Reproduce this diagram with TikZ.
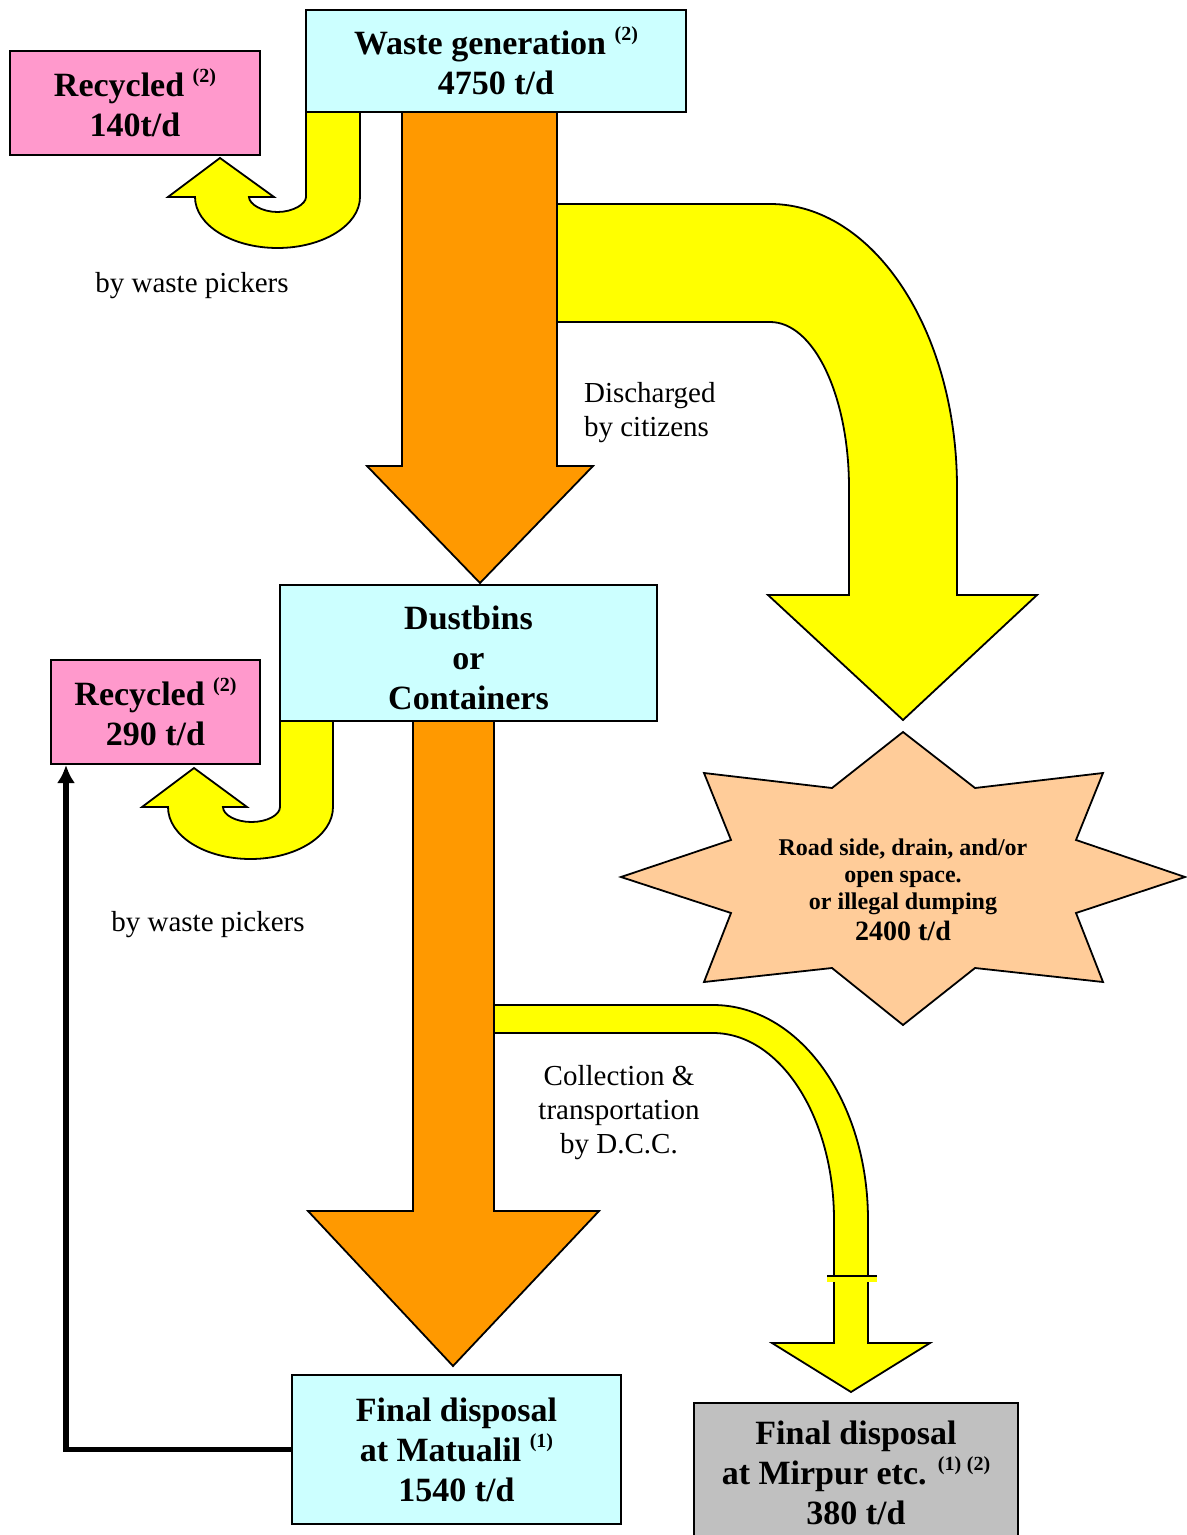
\documentclass[tikz,border=0pt]{standalone}
\usepackage{fontspec}
\setmainfont{Liberation Serif}
\usepackage{tikz}
\usetikzlibrary{arrows.meta}

\definecolor{boxcyan}{HTML}{CCFFFF}
\definecolor{boxpink}{HTML}{FF99CC}
\definecolor{boxgray}{HTML}{C0C0C0}
\definecolor{flowor}{HTML}{FF9900}
\definecolor{flowyel}{HTML}{FFFF00}
\definecolor{dumppeach}{HTML}{FFCC99}

\newcommand{\refmark}[1]{\raisebox{7pt}{\fontsize{10}{10}\selectfont(#1)}}

\begin{document}
\begin{tikzpicture}[x=0.5pt,y=-0.5pt,
  box/.style={draw,line width=1pt,inner sep=0pt,align=center,font=\fontsize{17}{20}\selectfont\bfseries},
  flow/.style={draw,line width=0.9pt,line join=miter},
  lbl/.style={align=center,font=\fontsize{14.5}{17}\selectfont}]
\useasboundingbox (0,0) rectangle (1187,1535);

% big yellow arrow to the dumping star
\path[flow,fill=flowyel] (557,204) -- (770,204) .. controls (873,204) and (957,330) .. (957,488)
  -- (957,595) -- (1037,595) -- (903,720) -- (768,595) -- (849,595) -- (849,488)
  .. controls (849,396) and (814,322) .. (770,322) -- (557,322) -- cycle;
% yellow arrow to Mirpur
\path[flow,fill=flowyel] (494,1005) -- (713,1005) .. controls (799,1005) and (868,1101) .. (868,1220)
  -- (868,1343) -- (930,1343) -- (851,1392) -- (772,1343) -- (834,1343) -- (834,1220)
  .. controls (834,1117) and (780,1033) .. (713,1033) -- (494,1033) -- cycle;
\fill[flowyel] (827,1276) rectangle (877,1282);
\draw[line width=0.9pt] (827,1276) -- (877,1276);

% orange main flow
\path[flow,fill=flowor] (402,112) -- (402,466) -- (367,466) -- (480,583) -- (593,466) -- (557,466) -- (557,112) -- cycle;
\path[flow,fill=flowor] (413,721) -- (413,1211) -- (308,1211) -- (453,1366) -- (599,1211) -- (494,1211) -- (494,721) -- cycle;

% u-turn arrows (waste pickers)
\path[flow,fill=flowyel] (306,112) -- (306,197) .. controls (306,204) and (293,212) .. (277.5,212)
  .. controls (262,212) and (249,204) .. (249,197) -- (274,197) -- (220,158) -- (168,197) -- (195,197)
  .. controls (195,225) and (232,248) .. (277.5,248) .. controls (323,248) and (360,225) .. (360,197)
  -- (360,112) -- cycle;
\path[flow,fill=flowyel] (280,721) -- (280,807) .. controls (280,815) and (267,822) .. (251.5,822)
  .. controls (236,822) and (223,815) .. (223,807) -- (247,807) -- (194,768) -- (142,807) -- (168,807)
  .. controls (168,836) and (205,859) .. (250.5,859) .. controls (296,859) and (333,836) .. (333,807)
  -- (333,721) -- cycle;

% dumping star
\path[flow,fill=dumppeach] (903,732) -- (975,788) -- (1103,773) -- (1076,840) -- (1185,877)
  -- (1076,913) -- (1103,982) -- (975,968) -- (903,1025) -- (832,968) -- (704,982)
  -- (731,913) -- (621,877) -- (731,840) -- (704,773) -- (832,788) -- cycle;
\node[align=center,font=\fontsize{12}{13.5}\selectfont\bfseries] (dump) at (903,890)
  {Road side, drain, and/or\\open space.\\or illegal dumping\\[2pt]{\fontsize{14}{16}\selectfont 2400 t/d}};

% boxes
\node[box,fill=boxcyan,minimum width=190pt,minimum height=51pt] (gen) at (496,61) {Waste generation \refmark{2}\\4750 t/d};
\node[box,fill=boxpink,minimum width=125pt,minimum height=52pt] (rec) at (135,103) {Recycled \refmark{2}\\140t/d};
\node[box,fill=boxcyan,minimum width=188.5pt,minimum height=68pt] (bins) at (468.5,653) {\rule{0pt}{16.5pt}Dustbins\\or\\Containers};
\node[box,fill=boxpink,minimum width=104.5pt,minimum height=52pt] (rec2) at (155.5,712) {Recycled \refmark{2}\\290 t/d};
\node[box,fill=boxcyan,minimum width=164.5pt,minimum height=74.5pt] (mat) at (456.5,1449.5) {Final disposal\\at Matualil \refmark{1}\\1540 t/d};
\node[box,fill=boxgray,minimum width=162pt,minimum height=70pt] (mir) at (856,1473) {Final disposal\\at Mirpur etc. \refmark{1}\,\refmark{2}\\380 t/d};

% labels
\node[lbl] (pick) at (192,286) {by waste pickers};
\node[lbl] (pick2) at (208,925) {by waste pickers};
\node[lbl,align=left,anchor=west] (disch) at (577,413) {Discharged\\by citizens};
\node[lbl] (coll) at (619,1113) {Collection \&\\transportation\\by D.C.C.};

\draw[line width=2.6pt,-{Latex[length=9pt,width=9pt]}] (mat.west) -| ([xshift=8pt]rec2.south west);
\end{tikzpicture}
\end{document}
